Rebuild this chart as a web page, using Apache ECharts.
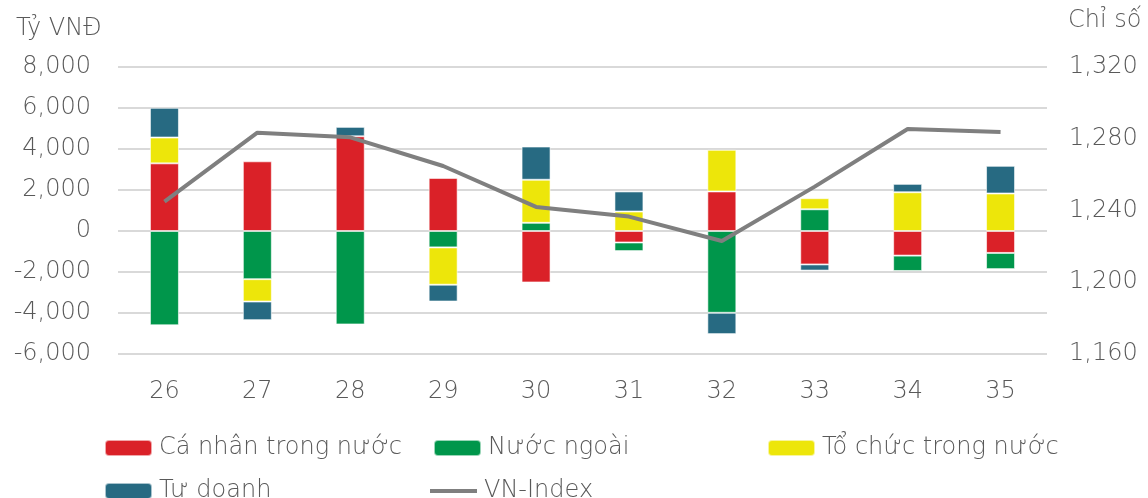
<!DOCTYPE html>
<html>
<head>
<meta charset="utf-8">
<script src="https://cdn.jsdelivr.net/npm/echarts@6/dist/echarts.min.js"></script>
<style>
  html, body { margin: 0; padding: 0; background: #fff; }
  #chart { width: 1148px; height: 498px; }
</style>
</head>
<body>
<div id="chart"></div>
<script>
const categories = ['26', '27', '28', '29', '30', '31', '32', '33', '34', '35'];
const caNhan  = [3300, 3400, 4620, 2590, -2510, -560, 1930, -1630, -1200, -1070];
const nuocNgoai = [-4600, -2350, -4560, -800, 400, -420, -3990, 1060, -750, -790];
const toChuc  = [1260, -1090, 0, -1820, 2100, 950, 2030, 540, 1890, 1830];
const tuDoanh = [1450, -910, 460, -820, 1620, 980, -1040, -300, 410, 1350];
const vnIndex = [1245, 1283.4, 1280.8, 1264.8, 1242, 1236.6, 1223, 1253.3, 1285.4, 1283.8];

const FONT = '"DejaVu Sans"';
const FW = 200;
const TXT = '#595959';
const fmt = v => v.toLocaleString('en-US');

const chart = echarts.init(document.getElementById('chart'), null, { renderer: 'canvas' });

function bar(name, data, color) {
  return {
    name, type: 'bar', stack: 'flow', data,
    barWidth: 29,
    itemStyle: { color, borderColor: 'rgba(255,255,255,0.6)', borderWidth: 1 }
  };
}

function legendAt(name, left, top, extra) {
  return Object.assign({
    data: [name], left, top,
    itemWidth: 47, itemHeight: 16, itemGap: 6,
    textStyle: { fontFamily: FONT, fontWeight: FW, fontSize: 24, color: TXT, padding: [0, 0, 0, 2] },
    selectedMode: false
  }, extra || {});
}

chart.setOption({
  animation: false,
  textStyle: { fontFamily: FONT },
  grid: { left: 118, right: 101, top: 67, bottom: 144 },
  legend: [
    legendAt('Cá nhân trong nước', 99, 431),
    legendAt('Nước ngoài', 428, 431),
    legendAt('Tổ chức trong nước', 762, 431),
    legendAt('Tư doanh', 99, 474),
    legendAt('VN-Index', 425, 474, { data: [{ name: 'VN-Index', icon: 'rect' }], itemHeight: 4 })
  ],
  graphic: [
    { type: 'text', left: 16, top: 17, style: { text: 'Tỷ VNĐ', font: FW + ' 24px ' + FONT, fill: TXT } },
    { type: 'text', left: 1068, top: 9, style: { text: 'Chỉ số', font: FW + ' 24px ' + FONT, fill: TXT } }
  ],
  xAxis: {
    type: 'category', data: categories,
    axisLine: { show: false }, axisTick: { show: false },
    axisLabel: { color: TXT, fontSize: 24, fontWeight: FW, margin: 26, fontFamily: FONT }
  },
  yAxis: [
    {
      type: 'value', min: -6000, max: 8000, interval: 2000,
      axisLabel: { color: TXT, fontSize: 24, fontWeight: FW, margin: 27, fontFamily: FONT, formatter: fmt },
      splitLine: { lineStyle: { color: '#d9d9d9', width: 2 } }
    },
    {
      type: 'value', min: 1160, max: 1320, interval: 40, position: 'right',
      axisLabel: { color: TXT, fontSize: 24, fontWeight: FW, margin: 22, fontFamily: FONT, formatter: fmt },
      splitLine: { show: false }
    }
  ],
  series: [
    bar('Cá nhân trong nước', caNhan, '#DA2128'),
    bar('Nước ngoài', nuocNgoai, '#00964B'),
    bar('Tổ chức trong nước', toChuc, '#EDE60A'),
    bar('Tư doanh', tuDoanh, '#276A82'),
    {
      name: 'VN-Index', type: 'line', yAxisIndex: 1, data: vnIndex,
      symbol: 'none', lineStyle: { color: '#7F7F7F', width: 4 },
      itemStyle: { color: '#7F7F7F' }
    }
  ]
});
</script>
</body>
</html>
